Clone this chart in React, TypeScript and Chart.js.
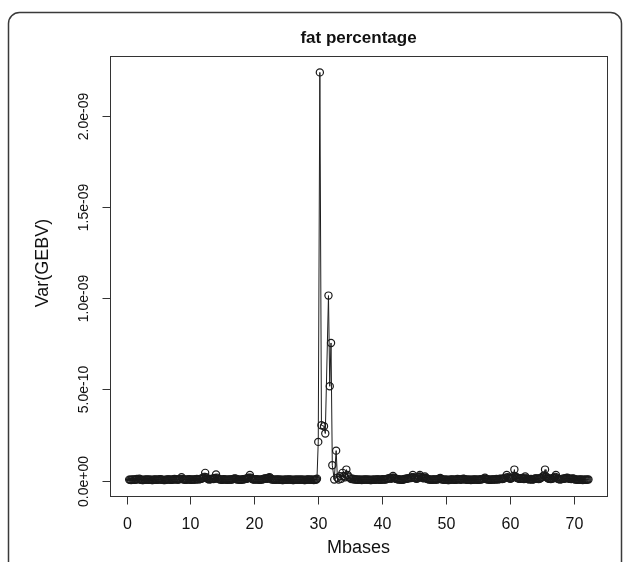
import { useEffect, useRef } from "react";
import { Chart, registerables } from "chart.js";

Chart.register(...registerables);

// Marker positions (Mbases)
const mbases: number[] = [
  // 0.4 – 29.8
  0.4, 0.55, 0.7, 0.85, 1.0, 1.15, 1.3, 1.45, 1.6, 1.8, 2.0, 2.15, 2.3, 2.45, 2.6, 2.75, 2.9, 3.05, 3.2, 3.35,
  3.5, 3.65, 3.8, 3.95, 4.1, 4.25, 4.4, 4.55, 4.7, 4.85, 5.0, 5.15, 5.3, 5.45, 5.6, 5.8, 6.0, 6.15, 6.3, 6.45,
  6.6, 6.75, 6.9, 7.05, 7.2, 7.35, 7.5, 7.65, 7.8, 7.95, 8.1, 8.25, 8.4, 8.6, 8.75, 8.9, 9.05, 9.2, 9.35, 9.5,
  9.65, 9.8, 9.95, 10.1, 10.25, 10.4, 10.55, 10.7, 10.85, 11.0, 11.15, 11.3, 11.5, 11.7, 11.85, 12.0, 12.15, 12.3, 12.45, 12.6,
  12.75, 12.9, 13.05, 13.2, 13.35, 13.5, 13.6, 13.7, 13.85, 14.0, 14.15, 14.3, 14.45, 14.6, 14.75, 14.9, 15.05, 15.2, 15.35, 15.5,
  15.65, 15.8, 15.95, 16.1, 16.25, 16.4, 16.55, 16.7, 16.85, 17.0, 17.15, 17.3, 17.45, 17.6, 17.75, 17.9, 18.05, 18.2, 18.35, 18.5,
  18.65, 18.8, 18.9, 19.0, 19.15, 19.3, 19.45, 19.6, 19.75, 19.9, 20.05, 20.2, 20.35, 20.5, 20.65, 20.8, 20.95, 21.1, 21.25, 21.4,
  21.55, 21.7, 21.85, 22.0, 22.1, 22.2, 22.3, 22.4, 22.55, 22.7, 22.85, 23.0, 23.15, 23.3, 23.45, 23.6, 23.75, 23.9, 24.05, 24.2,
  24.35, 24.5, 24.65, 24.8, 24.95, 25.1, 25.25, 25.4, 25.55, 25.7, 25.85, 26.0, 26.15, 26.3, 26.45, 26.6, 26.75, 26.9, 27.05, 27.2,
  27.35, 27.5, 27.65, 27.8, 27.95, 28.1, 28.25, 28.4, 28.55, 28.7, 28.85, 29.0, 29.15, 29.3, 29.45, 29.6, 29.7, 29.8,
  // peak
  30.0, 30.25, 30.5, 30.9, 31.1, 31.6, 31.8, 32.0, 32.2, 32.5,
  32.8, 33.0, 33.2, 33.4, 33.6, 33.8, 34.0, 34.2, 34.4, 34.6, 34.8, 35.0, 35.2, 35.4, 35.6,
  // 35.75 – 72.3
  35.75, 35.9, 36.05, 36.2, 36.35, 36.5, 36.65, 36.8, 36.95, 37.1, 37.25, 37.4, 37.55, 37.7, 37.85, 38.0, 38.15, 38.3, 38.45, 38.6,
  38.75, 38.9, 39.05, 39.2, 39.35, 39.5, 39.65, 39.8, 39.95, 40.1, 40.25, 40.4, 40.55, 40.7, 40.85, 41.0, 41.2, 41.4, 41.55, 41.7,
  41.85, 42.0, 42.15, 42.3, 42.45, 42.6, 42.75, 42.9, 43.05, 43.2, 43.35, 43.5, 43.65, 43.8, 43.95, 44.1, 44.3, 44.5, 44.65, 44.8,
  44.95, 45.1, 45.25, 45.4, 45.55, 45.7, 45.8, 45.9, 46.05, 46.2, 46.35, 46.5, 46.6, 46.7, 46.85, 47.0, 47.15, 47.3, 47.45, 47.6,
  47.75, 47.9, 48.05, 48.2, 48.35, 48.5, 48.65, 48.8, 48.95, 49.1, 49.25, 49.4, 49.55, 49.7, 49.85, 50.0, 50.15, 50.3, 50.45, 50.6,
  50.75, 50.9, 51.05, 51.2, 51.35, 51.5, 51.65, 51.8, 51.95, 52.1, 52.25, 52.4, 52.55, 52.7, 52.85, 53.0, 53.15, 53.3, 53.45, 53.6,
  53.75, 53.9, 54.05, 54.2, 54.35, 54.5, 54.65, 54.8, 54.95, 55.1, 55.25, 55.4, 55.55, 55.7, 55.9, 56.1, 56.25, 56.4, 56.55, 56.7,
  56.85, 57.0, 57.15, 57.3, 57.45, 57.6, 57.75, 57.9, 58.05, 58.2, 58.35, 58.5, 58.65, 58.8, 58.95, 59.1, 59.3, 59.5, 59.65, 59.8,
  59.95, 60.1, 60.25, 60.4, 60.55, 60.7, 60.85, 61.0, 61.15, 61.3, 61.45, 61.6, 61.75, 61.9, 62.05, 62.2, 62.3, 62.4, 62.55, 62.7,
  62.85, 63.0, 63.15, 63.3, 63.45, 63.6, 63.75, 63.9, 64.05, 64.2, 64.35, 64.5, 64.65, 64.8, 64.95, 65.1, 65.3, 65.5, 65.65, 65.8,
  65.95, 66.1, 66.25, 66.4, 66.55, 66.7, 66.85, 67.0, 67.1, 67.2, 67.35, 67.5, 67.65, 67.8, 67.95, 68.1, 68.25, 68.4, 68.55, 68.7,
  68.85, 69.0, 69.15, 69.3, 69.45, 69.6, 69.75, 69.9, 70.05, 70.2, 70.35, 70.5, 70.65, 70.8, 70.95, 71.1, 71.25, 71.4, 71.55, 71.7,
  71.85, 72.0, 72.15, 72.3,
];

// Var(GEBV) in units of 1e-10, one per marker above
const varGebvE10: number[] = [
  0.05, 0.04, 0.03, 0.05, 0.06, 0.04, 0.04, 0.06, 0.08, 0.06, 0.10, 0.05, 0.04, 0.03, 0.03, 0.05, 0.05, 0.04, 0.06, 0.04,
  0.04, 0.05, 0.05, 0.03, 0.03, 0.05, 0.06, 0.04, 0.04, 0.05, 0.05, 0.06, 0.07, 0.05, 0.04, 0.03, 0.03, 0.04, 0.05, 0.06,
  0.06, 0.05, 0.04, 0.04, 0.05, 0.06, 0.08, 0.07, 0.06, 0.05, 0.05, 0.07, 0.09, 0.18, 0.08, 0.06, 0.05, 0.04, 0.05, 0.05,
  0.06, 0.07, 0.05, 0.04, 0.05, 0.06, 0.05, 0.05, 0.07, 0.08, 0.07, 0.06, 0.08, 0.10, 0.12, 0.15, 0.20, 0.42, 0.18, 0.12,
  0.08, 0.06, 0.07, 0.08, 0.09, 0.10, 0.08, 0.10, 0.14, 0.33, 0.16, 0.10, 0.08, 0.06, 0.05, 0.04, 0.05, 0.07, 0.06, 0.05,
  0.05, 0.04, 0.05, 0.06, 0.05, 0.05, 0.07, 0.08, 0.10, 0.12, 0.08, 0.06, 0.05, 0.05, 0.04, 0.04, 0.05, 0.06, 0.07, 0.08,
  0.09, 0.10, 0.12, 0.14, 0.16, 0.30, 0.15, 0.09, 0.07, 0.05, 0.06, 0.07, 0.06, 0.06, 0.05, 0.04, 0.05, 0.05, 0.06, 0.08,
  0.10, 0.12, 0.11, 0.10, 0.12, 0.15, 0.14, 0.18, 0.12, 0.06, 0.05, 0.05, 0.05, 0.04, 0.05, 0.06, 0.05, 0.05, 0.04, 0.04,
  0.03, 0.03, 0.04, 0.05, 0.04, 0.04, 0.05, 0.06, 0.05, 0.05, 0.04, 0.03, 0.03, 0.04, 0.05, 0.05, 0.04, 0.05, 0.04, 0.04,
  0.04, 0.05, 0.04, 0.03, 0.03, 0.04, 0.05, 0.06, 0.05, 0.04, 0.04, 0.05, 0.04, 0.03, 0.04, 0.06, 0.05, 0.10,
  // peak
  2.12, 22.4, 3.03, 2.98, 2.58, 10.15, 5.17, 7.55, 0.84, 0.05,
  1.64, 0.15, 0.05, 0.24, 0.10, 0.42, 0.25, 0.18, 0.60, 0.30, 0.20, 0.12, 0.08, 0.10, 0.06,
  // 35.75 – 72.3
  0.06, 0.06, 0.05, 0.04, 0.04, 0.05, 0.04, 0.03, 0.04, 0.04, 0.05, 0.06, 0.05, 0.05, 0.04, 0.04, 0.03, 0.03, 0.04, 0.05,
  0.05, 0.04, 0.05, 0.06, 0.06, 0.05, 0.04, 0.04, 0.05, 0.07, 0.06, 0.05, 0.06, 0.08, 0.09, 0.12, 0.14, 0.10, 0.15, 0.25,
  0.15, 0.12, 0.10, 0.08, 0.07, 0.06, 0.05, 0.05, 0.04, 0.04, 0.06, 0.08, 0.09, 0.10, 0.11, 0.12, 0.13, 0.14, 0.18, 0.30,
  0.18, 0.14, 0.12, 0.10, 0.12, 0.18, 0.22, 0.30, 0.20, 0.16, 0.14, 0.12, 0.15, 0.22, 0.14, 0.10, 0.08, 0.06, 0.05, 0.05,
  0.04, 0.04, 0.06, 0.06, 0.05, 0.05, 0.06, 0.08, 0.10, 0.14, 0.08, 0.06, 0.05, 0.04, 0.04, 0.05, 0.04, 0.03, 0.03, 0.04,
  0.05, 0.06, 0.05, 0.05, 0.04, 0.04, 0.05, 0.08, 0.07, 0.06, 0.05, 0.05, 0.06, 0.10, 0.08, 0.06, 0.05, 0.04, 0.04, 0.05,
  0.04, 0.03, 0.04, 0.04, 0.05, 0.06, 0.05, 0.05, 0.04, 0.04, 0.05, 0.06, 0.07, 0.08, 0.10, 0.15, 0.09, 0.07, 0.06, 0.05,
  0.04, 0.04, 0.05, 0.06, 0.06, 0.05, 0.06, 0.08, 0.07, 0.06, 0.08, 0.10, 0.09, 0.08, 0.10, 0.12, 0.16, 0.30, 0.18, 0.14,
  0.12, 0.10, 0.14, 0.16, 0.25, 0.60, 0.24, 0.18, 0.14, 0.12, 0.10, 0.10, 0.12, 0.14, 0.10, 0.08, 0.12, 0.22, 0.12, 0.10,
  0.08, 0.06, 0.07, 0.08, 0.06, 0.05, 0.08, 0.10, 0.11, 0.12, 0.10, 0.08, 0.10, 0.14, 0.16, 0.20, 0.28, 0.60, 0.22, 0.16,
  0.12, 0.10, 0.09, 0.08, 0.10, 0.14, 0.12, 0.16, 0.20, 0.30, 0.16, 0.10, 0.08, 0.06, 0.07, 0.08, 0.09, 0.10, 0.11, 0.12,
  0.14, 0.16, 0.12, 0.10, 0.09, 0.08, 0.10, 0.12, 0.08, 0.06, 0.05, 0.05, 0.04, 0.04, 0.05, 0.06, 0.04, 0.03, 0.04, 0.05,
  0.04, 0.04, 0.05, 0.06,
];

const xTicks = [0, 10, 20, 30, 40, 50, 60, 70];
const xTickLabels = ["0", "10", "20", "30", "40", "50", "60", "70"];
const yTicks = [0, 5e-10, 1e-9, 1.5e-9, 2e-9];
const yTickLabels = ["0.0e+00", "5.0e-10", "1.0e-09", "1.5e-09", "2.0e-09"];
const titleText = "fat percentage";
const xTitle = "Mbases";
const yTitle = "Var(GEBV)";

const FONT = '"Liberation Sans", Arial, Helvetica, sans-serif';

const rPlot = {
  id: "rPlot",
  beforeDraw(chart: any) {
    const ctx = chart.ctx;
    ctx.save();
    ctx.fillStyle = "#fff";
    ctx.fillRect(0, 0, chart.width, chart.height);
    ctx.strokeStyle = "#3a3a3a";
    ctx.lineWidth = 1.5;
    const l = 8.5, t = 12.5, r = 621.5, b = chart.height + 5, rad = 11;
    ctx.beginPath();
    ctx.moveTo(l, b);
    ctx.lineTo(l, t + rad);
    ctx.arcTo(l, t, l + rad, t, rad);
    ctx.lineTo(r - rad, t);
    ctx.arcTo(r, t, r, t + rad, rad);
    ctx.lineTo(r, b);
    ctx.stroke();
    ctx.restore();
  },
  afterDraw(chart: any) {
    const { ctx, chartArea: a, scales } = chart;
    const xs = scales.x;
    const ys = scales.y;
    ctx.save();
    ctx.strokeStyle = "#333";
    ctx.lineWidth = 1;
    const L = Math.round(a.left) + 0.5;
    const T = Math.round(a.top) + 0.5;
    const R = Math.round(a.right) + 0.5;
    const B = Math.round(a.bottom) + 0.5;
    ctx.strokeRect(L, T, R - L, B - T);

    ctx.fillStyle = "#111";
    ctx.textAlign = "center";
    ctx.textBaseline = "middle";

    ctx.font = `16px ${FONT}`;
    xTicks.forEach((v, i) => {
      const px = Math.round(xs.getPixelForValue(v)) + 0.5;
      ctx.beginPath();
      ctx.moveTo(px, B);
      ctx.lineTo(px, B + 8);
      ctx.stroke();
      ctx.fillText(xTickLabels[i], px, 525);
    });

    ctx.font = `14px ${FONT}`;
    yTicks.forEach((v, i) => {
      const py = Math.round(ys.getPixelForValue(v)) + 0.5;
      ctx.beginPath();
      ctx.moveTo(L - 8, py);
      ctx.lineTo(L, py);
      ctx.stroke();
      ctx.save();
      ctx.translate(84, py);
      ctx.rotate(-Math.PI / 2);
      ctx.fillText(yTickLabels[i], 0, 0);
      ctx.restore();
    });

    const cx = (a.left + a.right) / 2;
    ctx.font = `bold 17px ${FONT}`;
    ctx.fillText(titleText, cx, 38);

    ctx.font = `18px ${FONT}`;
    ctx.fillText(xTitle, cx, 548);

    ctx.save();
    ctx.font = `18px ${FONT}`;
    ctx.translate(43, 263);
    ctx.rotate(-Math.PI / 2);
    ctx.fillText(yTitle, 0, 0);
    ctx.restore();

    ctx.restore();
  },
};

export default function App() {
  const ref = useRef<HTMLCanvasElement | null>(null);

  useEffect(() => {
    if (!ref.current) return;
    const n = Math.min(mbases.length, varGebvE10.length);
    const points = mbases.slice(0, n).map((x, i) => ({ x, y: varGebvE10[i] * 1e-10 }));
    const chart = new Chart(ref.current, {
      type: "line",
      data: {
        datasets: [
          {
            data: points,
            borderColor: "#1e1e1e",
            borderWidth: 1,
            tension: 0,
            pointStyle: "circle",
            pointRadius: 3.6,
            pointBorderWidth: 1.2,
            pointBorderColor: "#1a1a1a",
            pointBackgroundColor: "rgba(0,0,0,0)",
            fill: false,
            clip: false as any,
          },
        ],
      },
      options: {
        animation: false,
        responsive: false,
        layout: { padding: { left: 0, right: 23, top: 56, bottom: 0 } },
        plugins: {
          legend: { display: false },
          tooltip: { enabled: false },
          title: { display: false },
        },
        scales: {
          x: {
            type: "linear",
            min: -2.6,
            max: 75.2,
            grid: { display: false },
            border: { display: false },
            ticks: { display: false },
            afterFit(s: any) {
              s.height = 66;
            },
          },
          y: {
            type: "linear",
            min: -0.085e-9,
            max: 2.33e-9,
            grid: { display: false },
            border: { display: false },
            ticks: { display: false },
            afterFit(s: any) {
              s.width = 110;
            },
          },
        },
      },
      plugins: [rPlot],
    });
    return () => chart.destroy();
  }, []);

  return (
    <div style={{ position: "absolute", left: 0, top: 0, width: 630, height: 562, background: "#fff" }}>
      <canvas ref={ref} width={630} height={562} style={{ width: 630, height: 562, display: "block" }} />
    </div>
  );
}
